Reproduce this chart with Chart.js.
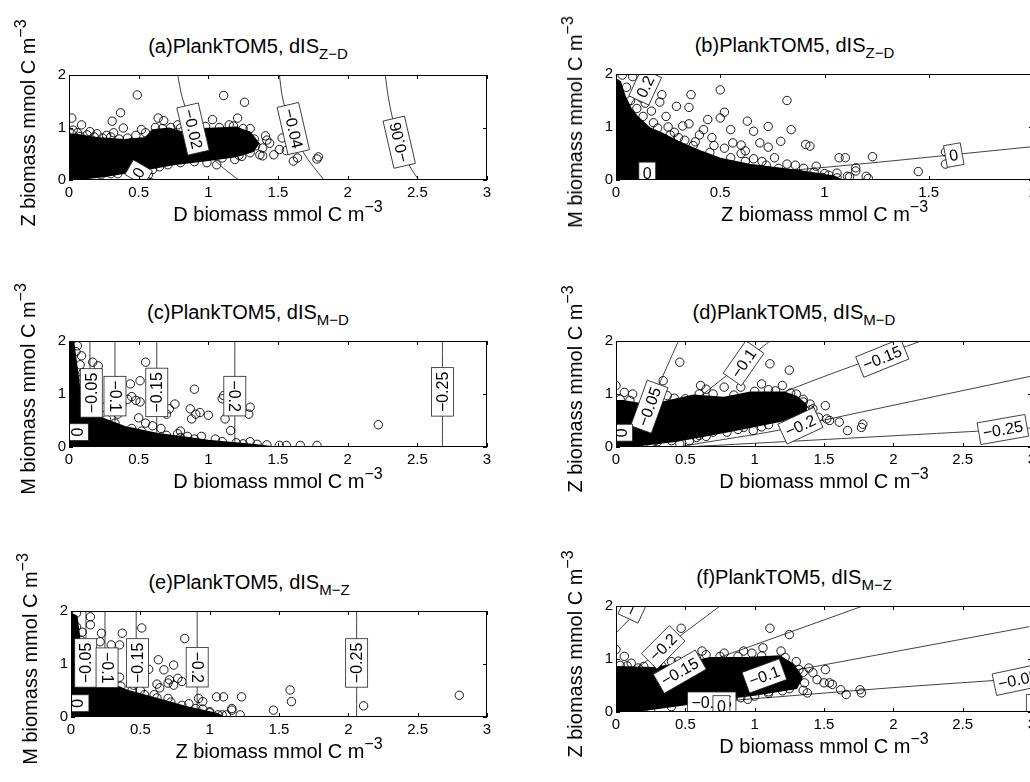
<!DOCTYPE html>
<html><head><meta charset="utf-8">
<script src="https://cdn.jsdelivr.net/npm/chart.js@4.4.1/dist/chart.umd.min.js"></script>
<style>
html,body{margin:0;padding:0;background:#fff;width:1030px;height:782px;overflow:hidden;position:relative;font-family:"Liberation Sans",Arial,sans-serif;}
canvas{position:absolute;}
.t{position:absolute;white-space:nowrap;color:#000;font-size:20px;line-height:20px;z-index:2;}
.t sub{font-size:15px;line-height:0;vertical-align:-6px;}
.t sup{font-size:16px;line-height:0;vertical-align:9px;}
.t.ti{font-size:20px;line-height:20px;}
.t.ti sub{font-size:15px;}
</style></head><body>
<script>
// ---------- tick labels ----------
const xTicks = [0, 0.5, 1, 1.5, 2, 2.5, 3];
const yTicks = [0, 1, 2];

// ---------- panel (a) ----------
const aCloud = [[0,0],[0.25,0.07],[0.5,0.18],[0.75,0.3],[1.0,0.38],[1.2,0.45],[1.32,0.55],[1.36,0.7],[1.3,0.9],[1.2,1.0],[1.05,0.98],[0.95,0.97],[0.82,0.9],[0.72,0.98],[0.6,0.95],[0.55,0.8],[0.4,0.76],[0.2,0.8],[0.05,0.86],[0,0.86]];
const aPts = [[0.49,1.62],[1.11,1.61],[1.26,1.48],[0.02,1.18],[0.37,1.28],[0.31,1.12],[0.64,1.18],[0.68,1.13],[1.03,1.15],[1.21,1.18],[0.09,1.05],[0.52,0.96],[0.39,0.99],[0.80,0.99],[1.41,0.84],[1.44,0.70],[1.39,0.61],[1.53,0.80],[1.47,0.48],[1.51,0.58],[1.56,0.56],[1.37,0.48],[1.39,0.46],[1.64,0.42],[1.61,0.36],[1.79,0.44],[1.78,0.40],[0.71,0.29],[0.99,0.33],[1.06,0.29],[1.19,0.39],[1.24,0.45],[0.23,0.1],[0.60,0.2],[0.53,0.1],[0.57,0.1],[0.15,0.92],[0.2,0.88],[0.27,0.85],[0.32,0.9],[0.45,0.72],[1.28,0.85],[1.33,0.78],[1.42,0.76],[0.12,0.05],[0.35,0.12],[0.78,1.05],[0.9,1.0],[1.15,1.05],[1.3,0.98],[0.03,0.95],[0.06,0.9],
  [0.02,0.88],[0.08,0.83],[0.13,0.86],[0.18,0.82],[0.24,0.8],[0.3,0.82],[0.36,0.78],[0.42,0.8],[0.48,0.85],[0.55,0.9],[0.62,1.0],[0.67,0.98],[0.73,1.0],[0.85,0.95],[0.98,1.02],[1.08,1.0],[1.18,1.03],[1.25,0.98],[1.34,0.65],[1.3,0.52],[1.22,0.47],[1.1,0.42],[0.9,0.35],[0.8,0.33],[0.65,0.25],[0.45,0.17],[0.3,0.12]];
const aLines = [
  [[0.78,2.0],[0.81,1.6],[0.86,1.2],[0.93,0.8],[1.02,0.45],[1.12,0.2],[1.22,0.0]],
  [[1.51,2.0],[1.53,1.6],[1.57,1.2],[1.63,0.8],[1.7,0.45],[1.77,0.2],[1.83,0.0]],
  [[2.27,2.0],[2.29,1.6],[2.32,1.2],[2.36,0.8],[2.41,0.45],[2.46,0.2],[2.51,0.0]],
  [[0.25,0.4],[0.5,0.12],[0.62,0.0]]
];
const aLabels = [['−0.02',0.89,0.97],['−0.04',1.61,0.98],['−0.06',2.37,0.72],['0',0.5,0.14]];

// ---------- panel (b) ----------
const bCloud = [[0,0],[1.08,0],[1.04,0.07],[0.88,0.17],[0.64,0.29],[0.5,0.4],[0.4,0.55],[0.3,0.72],[0.22,0.88],[0.16,0.98],[0.1,1.2],[0.07,1.35],[0.04,1.6],[0.02,1.85],[0,1.9]];
const bPts = [[0.5,1.70],[0.82,1.50],[0.36,1.61],[0.22,1.61],[0.21,1.47],[0.29,1.39],[0.35,1.37],[0.52,1.28],[0.5,1.17],[0.63,1.11],[0.73,1.01],[0.66,0.92],[0.84,0.95],[0.55,0.95],[0.44,1.14],[0.35,1.06],[0.28,0.9],[0.56,0.70],[0.6,0.66],[0.69,0.7],[0.73,0.62],[0.79,0.73],[0.91,0.67],[0.93,0.64],[1.07,0.42],[1.10,0.42],[1.23,0.44],[1.15,0.23],[1.15,0.17],[1.2,0.07],[1.11,0.07],[1.12,0.06],[1.06,0.13],[0.96,0.26],[0.86,0.28],[0.76,0.42],[0.66,0.40],[1.45,0.16],[1.58,0.53],[1.58,0.30],[1.21,0.03],[0.1,1.7],[0.12,1.55],[0.17,1.3],[0.24,1.2],[0.32,1.02],[0.4,0.85],[0.46,0.8],[0.52,0.6],[0.6,0.5],[0.7,0.35],[0.3,0.8],[0.25,1.0],[0.08,1.95],[0.03,1.98],[0.14,1.45],[0.42,0.95],[0.47,0.65],[0.38,0.72],[0.82,0.3],[0.9,0.22],[1.0,0.12],[0.62,0.55],
  [0.05,1.75],[0.07,1.5],[0.1,1.35],[0.13,1.2],[0.18,1.08],[0.2,0.98],[0.26,0.85],[0.33,0.75],[0.37,0.65],[0.45,0.52],[0.55,0.42],[0.62,0.35],[0.72,0.28],[0.78,0.22],[0.95,0.15],[1.02,0.09],[1.06,0.04],[0.99,0.05]];
const bLines = [
  [[0.5,0.1],[0.95,0.22],[2.0,0.63]],
  [[0.22,2.05],[0.12,1.7],[0.05,1.3]]
];
const bLabels = [['0.2',0.14,1.76],['0',0.15,0.13],['0',1.62,0.47]];

// ---------- panel (c) ----------
const cCloud = [[0,0],[1.45,0],[1.37,0.03],[1.0,0.12],[0.63,0.25],[0.4,0.38],[0.22,0.56],[0.12,0.65],[0.08,1.0],[0.05,1.6],[0.03,2.0],[0,2.0]];
const cPts = [[0.55,1.60],[0.17,1.6],[0.21,1.53],[0.09,1.72],[0.06,1.91],[0.90,1.09],[0.44,1.19],[0.51,1.25],[0.45,0.95],[0.48,0.88],[0.42,0.9],[0.51,0.85],[0.76,0.81],[0.72,0.72],[0.70,0.62],[0.87,0.72],[0.91,0.62],[0.94,0.65],[1.0,0.6],[0.88,0.53],[1.11,0.97],[1.10,0.91],[1.30,0.75],[1.29,0.62],[1.12,0.53],[1.16,0.31],[0.8,0.3],[0.78,0.25],[0.85,0.2],[1.42,0.04],[1.51,0.03],[1.56,0.03],[1.66,0.03],[1.78,0.03],[1.30,0.1],[2.22,0.42],[0.3,0.7],[0.35,0.62],[0.25,0.75],[0.55,0.45],[0.6,0.4],[0.66,0.35],[0.5,0.55],[0.38,0.8],[1.2,0.08],[1.05,0.15],[0.95,0.2],[0.12,1.2],[0.1,1.4],[0.14,0.9],
  [0.05,1.8],[0.08,1.55],[0.1,1.3],[0.11,1.1],[0.13,0.8],[0.16,0.65],[0.2,0.6],[0.27,0.52],[0.33,0.45],[0.45,0.35],[0.52,0.3],[0.7,0.22],[0.8,0.18],[0.9,0.15],[1.1,0.1],[1.25,0.06],[1.35,0.05]];
const cLines = [[[0.15,0],[0.15,2]],[[0.33,0],[0.33,2]],[[0.63,0],[0.63,2]],[[1.19,0],[1.19,2]],[[2.68,0],[2.68,2]]];
const cLabels = [['−0.05',0.16,1.02],['−0.1',0.33,0.96],['−0.15',0.63,1.03],['−0.2',1.19,0.96],['−0.25',2.68,1.04],['0',0.06,0.28]];

// ---------- panel (d) ----------
const dCloud = [[0,0],[0.15,0.03],[0.44,0.12],[0.84,0.31],[1.2,0.5],[1.37,0.68],[1.37,0.8],[1.3,0.95],[1.21,1.03],[0.97,1.03],[0.78,0.93],[0.56,0.97],[0.35,0.85],[0.2,0.8],[0.05,0.87],[0,0.87]];
const dPts = [[0.46,1.6],[1.11,1.57],[1.25,1.45],[0.34,1.25],[0.0,1.16],[0.06,1.03],[0.61,1.16],[0.65,1.09],[0.78,1.13],[0.90,1.13],[1.05,1.19],[1.2,1.16],[0.37,0.97],[0.5,0.91],[1.4,0.81],[1.51,0.78],[1.42,0.72],[1.46,0.56],[1.52,0.53],[1.54,0.5],[1.61,0.47],[1.67,0.31],[1.78,0.43],[1.77,0.37],[0.92,0.37],[0.99,0.31],[0.8,0.28],[0.70,0.28],[0.58,0.18],[0.53,0.12],[0.46,0.06],[0.12,1.0],[0.25,0.9],[0.7,1.0],[1.1,1.08],[1.3,1.0],[1.35,0.9],[1.38,0.6],[1.3,0.5],[1.1,0.42],[0.6,0.22],[0.3,0.1],[0.2,0.05],
  [0.03,0.9],[0.1,0.88],[0.28,0.88],[0.42,0.92],[0.6,1.0],[0.85,0.98],[1.0,1.05],[1.15,1.06],[1.26,1.02],[1.35,0.85],[1.4,0.7],[1.28,0.55],[1.05,0.38],[0.88,0.33],[0.65,0.2],[0.4,0.12]];
const dLines = [
  [[0.11,0.0],[0.45,2.0]],
  [[0.15,0.0],[1.11,2.0]],
  [[0.25,0.0],[1.3,1.13],[2.2,2.0]],
  [[0.45,0.0],[0.58,0.06],[1.16,0.31],[1.61,0.57],[3.0,1.34]],
  [[0.5,0.0],[2.55,0.29],[3.0,0.36]]
];
const dLabels = [['−0.05',0.24,0.76],['−0.1',0.92,1.58],['−0.15',1.92,1.68],['−0.2',1.33,0.4],['−0.25',2.79,0.33],['0',0.04,0.27]];

// ---------- panel (e) ----------
const eCloud = [[0,0],[1.1,0],[1.05,0.06],[0.83,0.19],[0.57,0.38],[0.4,0.5],[0.28,0.64],[0.2,0.8],[0.1,1.1],[0.06,1.5],[0.04,1.9],[0,1.95]];
const ePts = [[0.04,1.96],[0.14,1.89],[0.14,1.74],[0.51,1.68],[0.37,1.58],[0.22,1.58],[0.82,1.48],[0.29,1.36],[0.35,1.36],[0.21,1.42],[0.63,1.08],[0.74,0.98],[0.67,0.89],[0.56,0.9],[0.71,0.7],[0.77,0.73],[0.80,0.67],[0.74,0.6],[0.70,0.64],[0.62,0.62],[0.64,0.55],[0.92,0.35],[0.95,0.29],[1.05,0.38],[1.10,0.38],[1.23,0.38],[1.16,0.16],[1.16,0.13],[1.22,0.04],[1.12,0.04],[1.09,0.04],[1.46,0.13],[1.58,0.51],[1.59,0.29],[2.11,0.21],[2.80,0.41],[0.5,0.5],[0.45,0.6],[0.6,0.42],[0.7,0.35],[0.85,0.25],[0.95,0.15],[1.0,0.1],[0.35,0.75],[0.3,0.9],[0.25,1.05],[0.12,1.3],[0.08,1.6],
  [0.04,1.7],[0.07,1.45],[0.1,1.2],[0.16,0.95],[0.22,0.78],[0.3,0.68],[0.36,0.58],[0.44,0.5],[0.53,0.42],[0.62,0.36],[0.72,0.28],[0.8,0.22],[0.9,0.16],[1.0,0.08],[1.06,0.04]];
const eLines = [[[0.108,0],[0.108,2]],[[0.245,0],[0.245,2]],[[0.47,0],[0.47,2]],[[0.91,0],[0.91,2]],[[2.06,0],[2.06,2]]];
const eLabels = [['−0.05',0.106,1.02],['−0.1',0.26,0.93],['−0.15',0.48,1.02],['−0.2',0.91,0.94],['−0.25',2.06,1.02],['0',0.05,0.26]];

// ---------- panel (f) ----------
const fCloud = [[0,0],[0.12,0.01],[0.49,0.14],[0.8,0.26],[1.01,0.33],[1.3,0.45],[1.34,0.64],[1.28,0.89],[1.18,1.05],[0.94,1.02],[0.68,1.02],[0.49,0.92],[0.27,0.83],[0,0.85]];
const fPts = [[0.47,1.58],[1.11,1.58],[1.25,1.46],[0.0,1.18],[0.06,1.05],[0.11,0.92],[0.16,0.83],[0.62,1.15],[0.65,1.08],[0.78,1.11],[0.92,1.15],[0.98,1.11],[1.06,1.21],[1.19,1.15],[1.39,0.83],[1.42,0.74],[1.51,0.8],[1.45,0.61],[1.5,0.55],[1.54,0.55],[1.56,0.52],[1.62,0.42],[1.66,0.33],[1.76,0.42],[1.77,0.36],[1.35,0.41],[1.38,0.36],[1.0,0.3],[0.95,0.24],[0.9,0.27],[0.61,0.04],[0.55,0.01],[0.11,0.05],[0.16,0.06],[0.3,0.9],[0.4,0.95],[0.55,1.0],[1.3,0.95],[1.35,0.75],[1.2,0.4],[1.1,0.35],[0.7,0.2],
  [0.03,0.88],[0.08,0.87],[0.2,0.86],[0.33,0.87],[0.45,0.96],[0.58,1.02],[0.75,1.05],[0.88,1.05],[1.05,1.06],[1.22,1.03],[1.32,0.8],[1.36,0.55],[1.25,0.44],[1.1,0.38],[0.85,0.3],[0.65,0.2],[0.4,0.1],[0.25,0.05]];
const fLines = [
  [[0,1.49],[0.19,2.0]],
  [[0,0.53],[0.75,2.0]],
  [[0,0.33],[0.46,0.76],[1.78,2.0]],
  [[0,0.16],[2.98,1.61]],
  [[0,0.05],[1.04,0.26],[2.0,0.46],[2.98,0.64]]
];
const fLabels = [['−0.25',0.16,2.18],['−0.2',0.34,1.22],['−0.15',0.46,0.76],['−0.1',1.07,0.68],['−0.05',0.69,0.17],['0',0.76,0.1],['−0.05',2.9,0.61],['0',3.02,0.12]];

// ---------- layout / style (not data) ----------
const panels = [
  {left:69, top:75, w:418, h:105, xMax:3, cloud:aCloud, pts:aPts, lines:aLines, labels:aLabels, rot:[77,77,-103,-60],
   title:'(a)PlankTOM5, dIS', sub:'Z−D', xlab:'D biomass mmol C m', ylab:'Z biomass mmol C m'},
  {left:616, top:74, w:417, h:106, xMax:2, cloud:bCloud, pts:bPts, lines:bLines, labels:bLabels, rot:[-65,0,-10],
   title:'(b)PlankTOM5, dIS', sub:'Z−D', xlab:'Z biomass mmol C m', ylab:'M biomass mmol C m'},
  {left:69, top:341, w:418, h:106, xMax:3, cloud:cCloud, pts:cPts, lines:cLines, labels:cLabels, rot:[-90,90,-90,90,-90,-90],
   title:'(c)PlankTOM5, dIS', sub:'M−D', xlab:'D biomass mmol C m', ylab:'M biomass mmol C m'},
  {left:616, top:341, w:416, h:106, xMax:3, cloud:dCloud, pts:dPts, lines:dLines, labels:dLabels, rot:[-70,-55,-22,-25,-10,-90],
   title:'(d)PlankTOM5, dIS', sub:'M−D', xlab:'D biomass mmol C m', ylab:'Z biomass mmol C m'},
  {left:71, top:611, w:416, h:106, xMax:3, cloud:eCloud, pts:ePts, lines:eLines, labels:eLabels, rot:[-90,90,-90,90,-90,-90],
   title:'(e)PlankTOM5, dIS', sub:'M−Z', xlab:'Z biomass mmol C m', ylab:'M biomass mmol C m'},
  {left:616, top:606, w:416, h:106, xMax:3, cloud:fCloud, pts:fPts, lines:fLines, labels:fLabels, rot:[-65,-45,-30,-20,0,0,-12,0],
   title:'(f)PlankTOM5, dIS', sub:'M−Z', xlab:'D biomass mmol C m', ylab:'Z biomass mmol C m'}
];

const PADL = 40, PADR = 14, PADT = 10, PADB = 24;
const FONT = '"Liberation Sans", Arial, sans-serif';
const toXY = arr => arr.map(([x, y]) => ({x, y}));

function addText(html, cx, cy, rotate, cls) {
  const d = document.createElement('div');
  d.className = 't' + (cls ? ' ' + cls : '');
  d.innerHTML = html;
  d.style.left = cx + 'px';
  d.style.top = cy + 'px';
  d.style.transform = 'translate(-50%,-50%)' + (rotate ? ' rotate(-90deg)' : '');
  document.body.appendChild(d);
}

panels.forEach(p => {
  const W = p.w + PADL + PADR, H = p.h + PADT + PADB;
  const cv = document.createElement('canvas');
  cv.width = W; cv.height = H;
  cv.style.left = (p.left - PADL) + 'px';
  cv.style.top = (p.top - PADT) + 'px';
  cv.style.width = W + 'px'; cv.style.height = H + 'px';
  document.body.appendChild(cv);

  const datasets = [];
  p.lines.forEach(l => datasets.push({
    data: toXY(l), borderColor: '#111', borderWidth: 0.8, pointRadius: 0,
    fill: false, tension: 0.3, order: 3
  }));
  datasets.push({
    data: toXY(p.cloud), borderColor: '#000', borderWidth: 2, backgroundColor: '#000',
    pointRadius: 0, fill: 'shape', tension: 0, order: 2
  });
  datasets.push({
    data: toXY(p.pts), showLine: false, pointRadius: 4.2, pointBorderWidth: 0.9,
    pointBorderColor: '#000', pointBackgroundColor: 'rgba(0,0,0,0)', order: 1
  });

  const decor = {
    id: 'decor',
    afterDatasetsDraw(chart) {
      const {ctx, chartArea: a, scales: {x, y}} = chart;
      ctx.save();
      ctx.beginPath();
      ctx.rect(a.left, a.top, a.right - a.left, a.bottom - a.top);
      ctx.clip();
      ctx.font = '16px ' + FONT;
      p.labels.forEach(([t, lx, ly], i) => {
        const px = x.getPixelForValue(lx), py = y.getPixelForValue(ly);
        ctx.save();
        ctx.translate(px, py);
        ctx.rotate(p.rot[i] * Math.PI / 180);
        const w = ctx.measureText(t).width + 8, h = 22;
        ctx.fillStyle = '#fff';
        ctx.fillRect(-w / 2, -h / 2, w, h);
        ctx.strokeStyle = '#222';
        ctx.lineWidth = 0.8;
        ctx.strokeRect(-w / 2, -h / 2, w, h);
        ctx.fillStyle = '#000';
        ctx.textAlign = 'center';
        ctx.textBaseline = 'middle';
        ctx.fillText(t, 0, 1);
        ctx.restore();
      });
      ctx.restore();
    },
    afterDraw(chart) {
      const {ctx, chartArea: a, scales: {x, y}} = chart;
      ctx.save();
      ctx.strokeStyle = '#000';
      ctx.lineWidth = 1;
      ctx.strokeRect(a.left + 0.5, a.top + 0.5, a.right - a.left - 1, a.bottom - a.top - 1);
      ctx.beginPath();
      x.ticks.forEach(t => {
        const px = Math.round(x.getPixelForValue(t.value)) + 0.5;
        ctx.moveTo(px, a.bottom); ctx.lineTo(px, a.bottom - 4);
        ctx.moveTo(px, a.top); ctx.lineTo(px, a.top + 4);
      });
      y.ticks.forEach(t => {
        const py = Math.round(y.getPixelForValue(t.value)) + 0.5;
        ctx.moveTo(a.left, py); ctx.lineTo(a.left + 4, py);
        ctx.moveTo(a.right, py); ctx.lineTo(a.right - 4, py);
      });
      ctx.stroke();
      ctx.restore();
    }
  };

  new Chart(cv, {
    type: 'line',
    data: {datasets},
    options: {
      responsive: false, animation: false, events: [],
      layout: {padding: {left: 0, right: PADR, top: PADT, bottom: 0}},
      plugins: {legend: {display: false}, tooltip: {enabled: false}},
      scales: {
        x: {
          type: 'linear', min: 0, max: p.xMax,
          afterBuildTicks: s => { s.ticks = xTicks.filter(v => v <= p.xMax).map(v => ({value: v})); },
          afterFit: s => { s.height = PADB; s.paddingLeft = 0; s.paddingRight = 0; },
          grid: {display: false, drawTicks: false}, border: {display: false},
          ticks: {color: '#000', font: {family: FONT, size: 15}, padding: 4, maxRotation: 0, autoSkip: false,
                  callback: v => String(v)}
        },
        y: {
          type: 'linear', min: 0, max: 2,
          afterBuildTicks: s => { s.ticks = yTicks.map(v => ({value: v})); },
          afterFit: s => { s.width = PADL; s.paddingTop = 0; s.paddingBottom = 0; },
          grid: {display: false, drawTicks: false}, border: {display: false},
          ticks: {color: '#000', font: {family: FONT, size: 15}, padding: 3, autoSkip: false,
                  callback: v => String(v)}
        }
      }
    },
    plugins: [decor]
  });

  const cx = p.left + p.w / 2;
  addText(p.title + '<sub>' + p.sub + '</sub>', cx - 30, p.top - 29, false, 'ti');
  addText(p.xlab + '<sup>−3</sup>', cx, p.top + p.h + 34, false);
  addText(p.ylab + '<sup>−3</sup>', p.left - 41, p.top + p.h / 2 - 5, true);
});
</script>
</body></html>
